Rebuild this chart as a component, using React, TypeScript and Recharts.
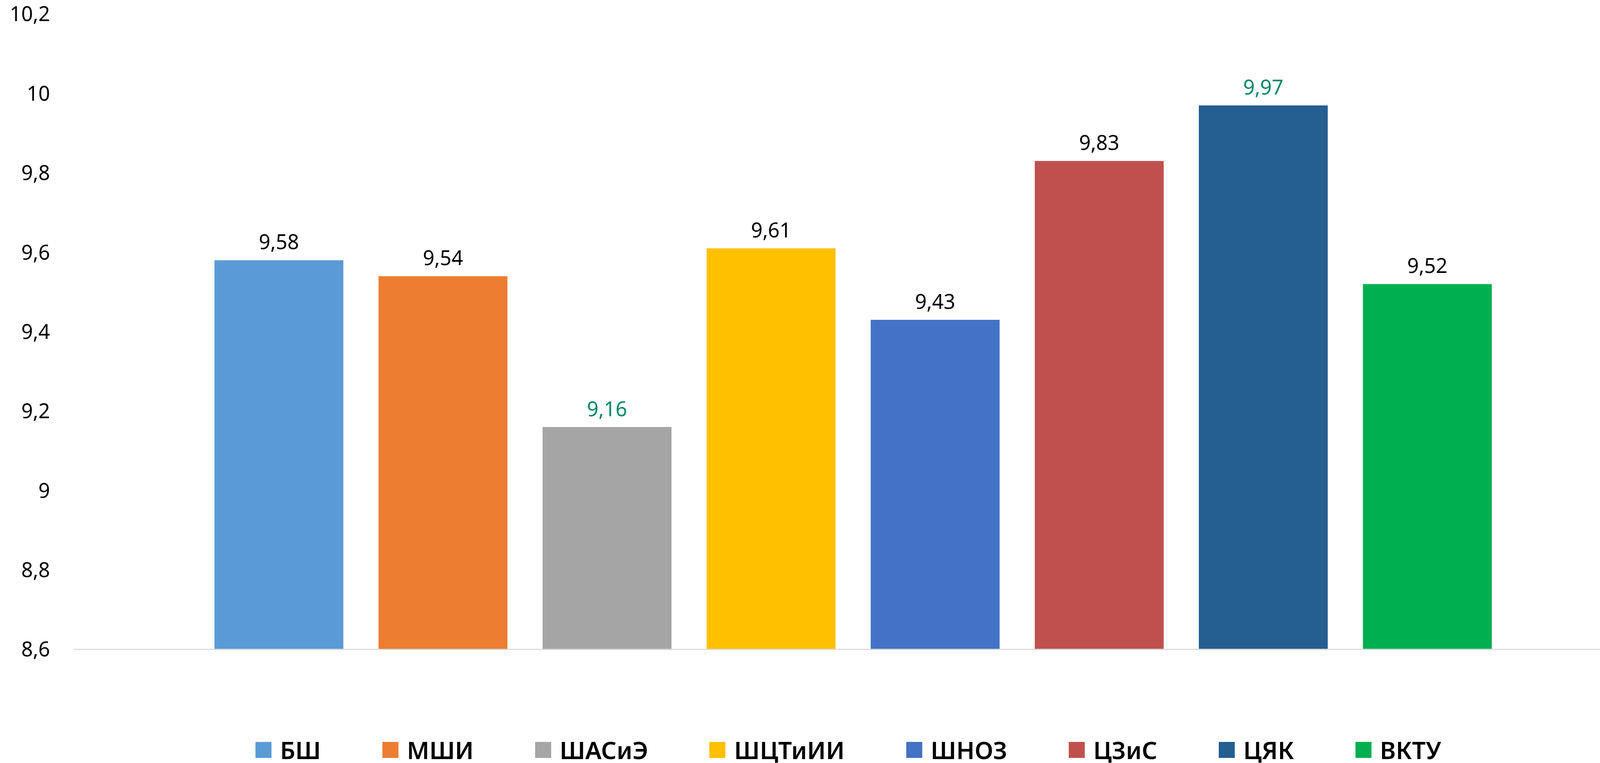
import React from "react";
import { BarChart, Bar, XAxis, YAxis, Cell, LabelList } from "recharts";

const categories = ["БШ", "МШИ", "ШАСиЭ", "ШЦТиИИ", "ШНОЗ", "ЦЗиС", "ЦЯК", "ВКТУ"];
const values = [9.58, 9.54, 9.16, 9.61, 9.43, 9.83, 9.97, 9.52];
const colors = ["#5B9BD5", "#ED7D31", "#A5A5A5", "#FFC000", "#4472C4", "#C0504D", "#255E91", "#00B050"];
const highlighted = ["ШАСиЭ", "ЦЯК"];
const yTicks = [8.6, 8.8, 9, 9.2, 9.4, 9.6, 9.8, 10, 10.2];

const data = categories.map((name, i) => ({ name, value: values[i] }));

const FONT = "'Noto Sans', sans-serif";
const fmt = (v: number) => String(Math.round(v * 100) / 100).replace(".", ",");

function renderLabel(props: any) {
  const { x, y, width, value, index } = props;
  const green = highlighted.includes(categories[index]);
  return (
    <text
      x={x + width / 2}
      y={y - 28}
      textAnchor="middle"
      fontSize={52}
      fontFamily={FONT}
      fill={green ? "#00876A" : "#000"}
    >
      {fmt(value)}
    </text>
  );
}

function LegendRow() {
  return (
    <div
      style={{
        position: "absolute",
        top: 1888,
        left: 188,
        width: 4155 - 188,
        display: "flex",
        justifyContent: "center",
        alignItems: "center",
        fontFamily: FONT,
      }}
    >
      {categories.map((c, i) => (
        <div key={c} style={{ display: "flex", alignItems: "center", marginRight: i < categories.length - 1 ? 157 : 0 }}>
          <div style={{ width: 41, height: 41, background: colors[i], marginRight: 22 }} />
          <span style={{ fontSize: 62, fontWeight: 600, color: "#000", lineHeight: "64px" }}>{c}</span>
        </div>
      ))}
    </div>
  );
}

export default function App() {
  return (
    <div style={{ position: "relative", width: 4155, height: 1954 }}>
      <style>{`body{margin:0;background:#fff}`}</style>
      <BarChart
        width={4155}
        height={1954}
        data={data}
        margin={{ top: 36, right: 0, left: 0, bottom: 0 }}
      >
        <XAxis
          dataKey="name"
          tick={false}
          tickLine={false}
          axisLine={{ stroke: "#D9D9D9", strokeWidth: 3 }}
          padding={{ left: 316, right: 291 }}
          height={291}
        />
        <YAxis
          width={188}
          domain={[8.6, 10.2]}
          ticks={yTicks}
          interval={0}
          axisLine={false}
          tickLine={false}
          tickSize={0}
          tickMargin={60}
          allowDataOverflow
          tickFormatter={fmt}
          tick={{ fontSize: 52, fill: "#000", fontFamily: FONT }}
        />
        <Bar dataKey="value" barSize={330} isAnimationActive={false}>
          {data.map((d, i) => (
            <Cell key={d.name} fill={colors[i]} />
          ))}
          <LabelList dataKey="value" content={renderLabel} />
        </Bar>
      </BarChart>
      <LegendRow />
    </div>
  );
}
